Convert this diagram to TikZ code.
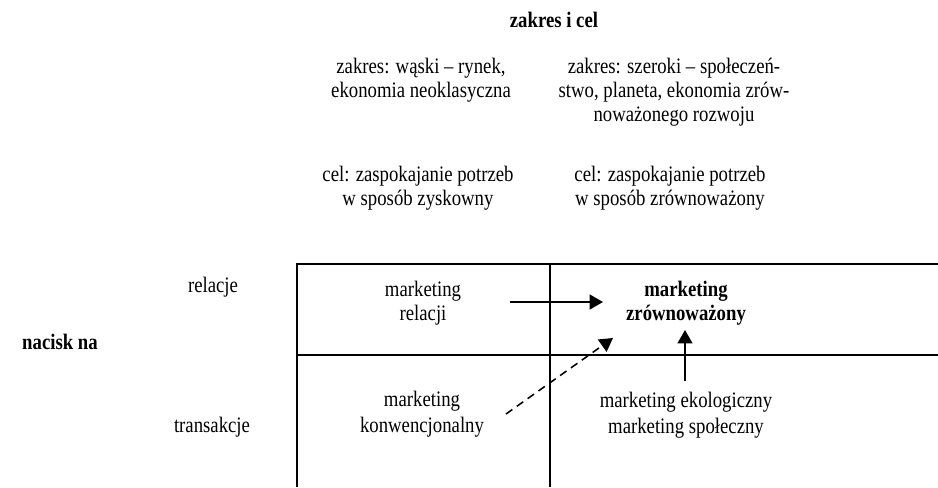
\documentclass[tikz,border=0pt]{standalone}
\usepackage{fontspec}
\setmainfont{Liberation Serif}
\usetikzlibrary{arrows.meta}
\begin{document}
\begin{tikzpicture}[x=0.64pt,y=-0.64pt,
  txt/.style={align=center,inner sep=0pt,transform shape,yscale=1.18,font=\fontsize{12}{13}\selectfont},
  txtb/.style={txt,font=\fontsize{12}{14.1}\selectfont},
  bold/.style={font=\fontsize{12}{13}\selectfont\bfseries},
  grid/.style={line width=1.2pt},
  arr/.style={line width=1pt,-{Triangle[length=8.5pt,width=9.5pt]}}]
\useasboundingbox (0,0) rectangle (938,487);
% grid
\coordinate (tl) at (297,264);
\coordinate (tr) at (938,264);
\coordinate (bl) at (297,487);
\coordinate (mt) at (550,264);
\coordinate (mb) at (550,487);
\coordinate (ml) at (297,355);
\coordinate (mr) at (938,355);
\draw[grid] (tr) -- (tl) -- (bl);
\draw[grid] (mt) -- (mb);
\draw[grid] (ml) -- (mr);
% header
\node[txt,bold] (head) at (554,20) {zakres i cel};
\node[txt] (zl) at (421,80) {zakres: wąski – rynek,\\ekonomia neoklasyczna};
\node[txt] (zr) at (674,92) {zakres: szeroki – społeczeń-\\stwo, planeta, ekonomia zrów-\\noważonego rozwoju};
\node[txt] (cl) at (418,188) {cel: zaspokajanie potrzeb\\w sposób zyskowny};
\node[txt] (cr) at (670,188) {cel: zaspokajanie potrzeb\\w sposób zrównoważony};
% row labels
\node[txt] (rel) at (213,287) {relacje};
\node[txt,bold] (nac) at (60,342) {nacisk na};
\node[txt] (tra) at (212,427) {transakcje};
% cells
\node[txt] (mrel) at (423,303) {marketing\\relacji};
\node[txt,bold] (mzr) at (686,303) {marketing\\zrównoważony};
\node[txtb] (mkon) at (422,414) {marketing\\konwencjonalny};
\node[txtb] (meko) at (686,415) {marketing ekologiczny\\marketing społeczny};
% arrows
\coordinate (a1s) at (510,302);
\coordinate (a1e) at (603,302);
\coordinate (a2s) at (506,414);
\coordinate (a2e) at (613,338);
\coordinate (a3s) at (685,381);
\coordinate (a3e) at (685,330);
\draw[arr] (a1s) -- (a1e);
\draw[arr,dash pattern=on 5pt off 3.5pt] (a2s) -- (a2e);
\draw[arr] (a3s) -- (a3e);
\end{tikzpicture}
\end{document}
